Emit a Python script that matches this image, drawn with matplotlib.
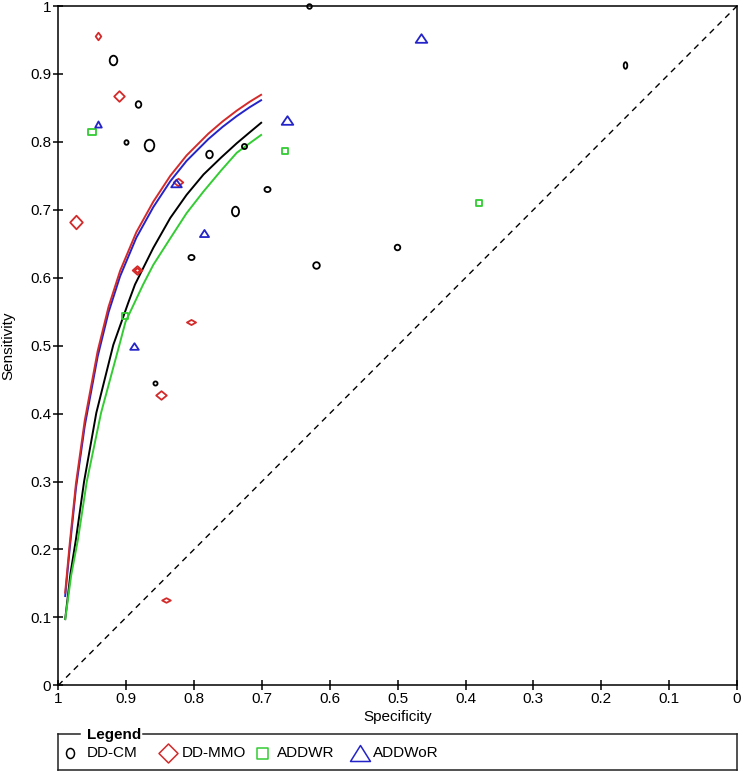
import matplotlib
matplotlib.use("Agg")
import matplotlib.pyplot as plt
import numpy as np
from matplotlib.path import Path
from matplotlib.lines import Line2D

plt.rcParams['font.family'] = ['Liberation Sans', 'DejaVu Sans']

# ---------------- data ----------------
# Study points: specificity, sensitivity, marker width / height (px, study precision)
cm_spec = [0.631, 0.919, 0.882, 0.900, 0.867, 0.778, 0.727, 0.692, 0.739, 0.804, 0.857, 0.621, 0.501, 0.165]
cm_sens = [1.000, 0.920, 0.855, 0.800, 0.796, 0.782, 0.794, 0.731, 0.698, 0.630, 0.445, 0.618, 0.645, 0.913]
cm_w = [5, 8, 6, 4.5, 10, 7, 5.5, 6.5, 7.5, 6.5, 4.5, 7, 6, 4]
cm_h = [5, 10, 7, 5, 12, 8, 5.5, 5.5, 10, 5.5, 4.5, 7, 6, 7]

mmo_spec = [0.941, 0.911, 0.974, 0.824, 0.884, 0.884, 0.805, 0.848, 0.842]
mmo_sens = [0.956, 0.867, 0.682, 0.741, 0.611, 0.611, 0.535, 0.427, 0.125]
mmo_w = [6, 11, 13, 10, 10, 6, 9.5, 11, 9]
mmo_h = [8, 11, 14, 8, 9, 5, 5.5, 9, 5]

wr_spec = [0.950, 0.666, 0.380, 0.901]
wr_sens = [0.815, 0.786, 0.710, 0.544]
wr_w = [8, 6, 6, 7]
wr_h = [5.5, 6, 6, 6]

wor_spec = [0.941, 0.663, 0.465, 0.826, 0.785, 0.889]
wor_sens = [0.826, 0.832, 0.953, 0.740, 0.666, 0.499]
wor_w = [7, 12, 12, 11, 9.5, 9]
wor_h = [6.5, 9, 9, 8, 7.5, 7]

# SROC curves (specificity, sensitivity)
cm_curve_spec = [0.990, 0.982, 0.974, 0.962, 0.944, 0.919, 0.897, 0.887, 0.860, 0.835, 0.811, 0.786, 0.760, 0.737, 0.718, 0.700]
cm_curve_sens = [0.096, 0.165, 0.215, 0.300, 0.401, 0.501, 0.563, 0.590, 0.644, 0.688, 0.722, 0.752, 0.777, 0.798, 0.814, 0.829]

mmo_curve_spec = [0.990, 0.983, 0.974, 0.961, 0.942, 0.926, 0.909, 0.885, 0.860, 0.835, 0.811, 0.779, 0.758, 0.737, 0.718, 0.700]
mmo_curve_sens = [0.135, 0.210, 0.297, 0.390, 0.492, 0.557, 0.610, 0.667, 0.712, 0.750, 0.780, 0.812, 0.830, 0.846, 0.859, 0.870]

wor_curve_spec = [0.990, 0.983, 0.974, 0.961, 0.942, 0.926, 0.909, 0.885, 0.860, 0.835, 0.811, 0.779, 0.758, 0.737, 0.718, 0.700]
wor_curve_sens = [0.130, 0.203, 0.290, 0.382, 0.484, 0.549, 0.602, 0.659, 0.704, 0.742, 0.772, 0.804, 0.822, 0.838, 0.851, 0.862]

wr_curve_spec = [0.990, 0.981, 0.971, 0.958, 0.937, 0.910, 0.901, 0.875, 0.860, 0.835, 0.811, 0.786, 0.760, 0.737, 0.718, 0.700]
wr_curve_sens = [0.096, 0.162, 0.215, 0.300, 0.401, 0.501, 0.535, 0.590, 0.619, 0.658, 0.695, 0.727, 0.758, 0.784, 0.798, 0.811]

chance_spec = [1.0, 0.0]
chance_sens = [0.0, 1.0]

tick_vals = [0, 0.1, 0.2, 0.3, 0.4, 0.5, 0.6, 0.7, 0.8, 0.9, 1]
tick_labels = ['0', '0.1', '0.2', '0.3', '0.4', '0.5', '0.6', '0.7', '0.8', '0.9', '1']

series_names = ['DD-CM', 'DD-MMO', 'ADDWR', 'ADDWoR']

# ---------------- styles ----------------
BLACK = '#000000'
RED = '#d42a2a'
GREEN = '#33cc33'
BLUE = '#2424c8'
FS = 11


def ellipse_path(w, h):
    c = Path.unit_circle()
    return Path(c.vertices * np.array([w / 2.0, h / 2.0]), c.codes)


def diamond_path(w, h):
    return Path([(0, h / 2), (w / 2, 0), (0, -h / 2), (-w / 2, 0), (0, h / 2)],
                [Path.MOVETO, Path.LINETO, Path.LINETO, Path.LINETO, Path.CLOSEPOLY])


def square_path(w, h):
    return Path([(-w / 2, -h / 2), (w / 2, -h / 2), (w / 2, h / 2), (-w / 2, h / 2), (-w / 2, -h / 2)],
                [Path.MOVETO, Path.LINETO, Path.LINETO, Path.LINETO, Path.CLOSEPOLY])


def triangle_path(w, h):
    return Path([(-w / 2, -h / 2), (w / 2, -h / 2), (0, h / 2), (-w / 2, -h / 2)],
                [Path.MOVETO, Path.LINETO, Path.LINETO, Path.CLOSEPOLY])


W, H = 742, 772
fig = plt.figure(figsize=(W / 100, H / 100), dpi=100)
ax_l, ax_r, ax_t, ax_b = 58.3, 737.0, 6.0, 685.3
ax = fig.add_axes([ax_l / W, 1 - ax_b / H, (ax_r - ax_l) / W, (ax_b - ax_t) / H])

ax.set_xlim(1, 0)
ax.set_ylim(0, 1)

# chance line
ax.plot(chance_spec, chance_sens, color='black', lw=1.0, dashes=(4.3, 3.6), zorder=1)

# SROC curves
for sp, se, col in [(cm_curve_spec, cm_curve_sens, BLACK),
                    (wr_curve_spec, wr_curve_sens, GREEN),
                    (wor_curve_spec, wor_curve_sens, BLUE),
                    (mmo_curve_spec, mmo_curve_sens, RED)]:
    ax.plot(sp, se, color=col, lw=1.4, zorder=2, solid_capstyle='butt', solid_joinstyle='round')

# study points
px2pt = 72.0 / 100.0
mew = 1.3
for sp, se, ws, hs, col, maker in [
        (cm_spec, cm_sens, cm_w, cm_h, BLACK, ellipse_path),
        (mmo_spec, mmo_sens, mmo_w, mmo_h, RED, diamond_path),
        (wr_spec, wr_sens, wr_w, wr_h, GREEN, square_path),
        (wor_spec, wor_sens, wor_w, wor_h, BLUE, triangle_path)]:
    for x, y, w, h in zip(sp, se, ws, hs):
        ww, hh = max(w - 0.4, 2.5), max(h - 0.4, 2.5)
        ax.plot([x], [y], linestyle='none', marker=maker(ww, hh),
                markersize=max(ww, hh) * px2pt, markerfacecolor='none',
                markeredgecolor=col, markeredgewidth=mew, clip_on=False, zorder=3)

ax.set_xticks(tick_vals)
ax.set_xticklabels(tick_labels)
ax.set_yticks(tick_vals)
ax.set_yticklabels(tick_labels)
ax.tick_params(direction='inout', length=7, width=1.1, labelsize=FS, pad=1.5, colors='black')
for s in ax.spines.values():
    s.set_linewidth(1.1)

fig.text((ax_l + ax_r) / 2 / W, 1 - 717 / H, 'Specificity', ha='center', va='center', fontsize=FS)
fig.text(8 / W, 1 - (ax_t + ax_b) / 2 / H, 'Sensitivity', ha='center', va='center',
         rotation=90, fontsize=FS)

# ---------------- legend ----------------
lx0, lx1, ly0, ly1 = 58.3, 737.0, 733.7, 769.7
gap0, gap1 = 80.0, 143.0
segs = [[(lx0, gap0), (ly0, ly0)], [(gap1, lx1), (ly0, ly0)],
        [(lx1, lx1), (ly0, ly1)], [(lx1, lx0), (ly1, ly1)], [(lx0, lx0), (ly1, ly0)]]
for xs, ys in segs:
    fig.add_artist(Line2D([x / W for x in xs], [1 - y / H for y in ys], color='#222222',
                          lw=1.1, transform=fig.transFigure))
fig.text(86.7 / W, 1 - 735 / H, 'Legend', fontweight='bold', ha='left', va='center', fontsize=FS)

leg_items = [(ellipse_path(8, 10), 10, BLACK), (diamond_path(19, 19), 19, RED),
             (square_path(11, 11), 11, GREEN), (triangle_path(20, 16), 20, BLUE)]
marker_x = [70.0, 168.3, 262.3, 360.0]
text_off = [16.7, 13.4, 14.4, 13.0]
ly = 753.0
for (path, sz, col), name, mx, to in zip(leg_items, series_names, marker_x, text_off):
    fig.add_artist(Line2D([mx / W], [1 - ly / H], linestyle='none', marker=path,
                          markersize=sz * px2pt, markerfacecolor='none', markeredgecolor=col,
                          markeredgewidth=1.1, transform=fig.transFigure))
    fig.text((mx + to) / W, 1 - ly / H, name, ha='left', va='center', fontsize=FS)

fig.savefig('out.png', dpi=100)
